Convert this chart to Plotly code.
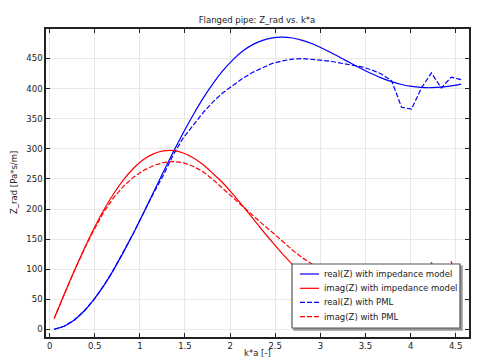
import plotly.graph_objects as go

# k*a grid
ka = [0.05, 0.16, 0.27, 0.38, 0.49, 0.60, 0.71, 0.82, 0.93, 1.04,
      1.15, 1.26, 1.37, 1.48, 1.59, 1.70, 1.81, 1.92, 2.03, 2.14,
      2.25, 2.36, 2.47, 2.58, 2.69, 2.80, 2.91, 3.02, 3.13, 3.24,
      3.35, 3.46, 3.57, 3.68, 3.79, 3.90, 4.01, 4.12, 4.23, 4.34,
      4.45, 4.56]

real_imp = [0.3, 5.4, 15.4, 30.2, 49.5, 72.7, 99.4, 128.9, 160.3, 193.3,
            227.6, 261.4, 294.6, 326.4, 356.3, 383.8, 408.4, 429.8, 447.8, 462.3,
            473.1, 480.2, 484.4, 485.5, 484.0, 480.2, 474.5, 467.1, 458.8, 450.1,
            441.2, 432.6, 424.6, 417.5, 411.5, 406.9, 403.6, 401.9, 401.5, 402.4,
            404.5, 407.5]

imag_imp = [18.2, 58.0, 96.4, 133.0, 167.2, 198.3, 225.4, 248.8, 267.7, 282.1,
            291.6, 296.5, 297.0, 293.1, 285.3, 274.0, 259.0, 243.3, 224.9, 205.3,
            184.8, 164.3, 144.5, 125.6, 108.2, 92.4, 78.7, 67.1, 57.9, 50.8,
            46.1, 43.3, 42.5, 43.3, 45.4, 48.6, 52.5, 56.9, 61.3, 65.6,
            69.3, 72.5]

real_pml = [0.3, 5.4, 15.4, 30.2, 49.5, 72.7, 99.4, 128.9, 160.3, 193.0,
            226.0, 256.0, 290.0, 318.0, 340.0, 360.0, 378.0, 393.0, 405.0, 417.0,
            427.0, 435.0, 442.0, 446.0, 449.0, 450.0, 449.0, 447.0, 445.0, 442.0,
            439.0, 436.0, 431.0, 424.0, 413.0, 369.0, 366.0, 401.0, 426.0, 401.0,
            419.0, 415.0]

imag_pml = [18.0, 58.0, 96.0, 132.0, 165.0, 195.0, 219.0, 238.0, 253.0, 264.0,
            272.0, 277.0, 279.0, 277.0, 271.0, 262.0, 249.0, 234.0, 219.0, 204.0,
            189.0, 175.0, 161.0, 146.0, 132.0, 119.0, 108.0, 98.0, 89.0, 81.0,
            75.0, 70.0, 66.0, 62.0, 58.0, 85.0, 60.0, 45.0, 112.0, 62.0,
            113.0, 68.0]

series_names = ["real(Z) with impedance model", "imag(Z) with impedance model",
                "real(Z) with PML", "imag(Z) with PML"]

BLUE = "#0000ff"
RED = "#ff0000"
FONT = "DejaVu Sans"
DASH = "5px,2px"

styles = [(BLUE, "solid"), (RED, "solid"), (BLUE, DASH), (RED, DASH)]
values = [real_imp, imag_imp, real_pml, imag_pml]

fig = go.Figure()
for name, vals, (col, dash) in zip(series_names, values, styles):
    shape = "spline" if dash == "solid" else "linear"
    fig.add_trace(go.Scatter(x=ka, y=vals, mode="lines", name=name,
                             line=dict(color=col, width=1.2, dash=dash, shape=shape, smoothing=0.6),
                             showlegend=False))

# page has an 8px body margin; work in page pixels and convert
OFF = 8
W, H = 484 - OFF, 364 - OFF
L, R, T, B = 46 - OFF, 469 - OFF, 29 - OFF, 337 - OFF

def px(x):
    return (x - OFF - L) / (R - L)

def py(y):
    return (B - (y - OFF)) / (B - T)

axis_common = dict(showline=True, linecolor="#222222", linewidth=1.5, mirror="ticks",
                   ticks="inside", ticklen=4, tickwidth=1, tickcolor="#222222",
                   showgrid=True, gridcolor="#e8e8e8", gridwidth=1, zeroline=False,
                   tickfont=dict(family=FONT, size=8.5, color="#222222"))

fig.update_xaxes(range=[-0.04, 4.647], tick0=0, dtick=0.5, **axis_common)
fig.update_yaxes(range=[-12.5, 499], tick0=0, dtick=50, **axis_common)

shapes = []
# legend box with shadow
shapes.append(dict(type="rect", xref="paper", yref="paper", layer="above",
                   x0=px(294), x1=px(462), y0=py(330), y1=py(266),
                   line=dict(color="#9a9a9a", width=1.5), fillcolor="#9a9a9a"))
shapes.append(dict(type="rect", xref="paper", yref="paper", layer="above",
                   x0=px(292), x1=px(460), y0=py(328), y1=py(264),
                   line=dict(color="#555555", width=1.2), fillcolor="white"))
row_y = [274, 288.3, 302.3, 316.7]
annotations = []
for (col, dash), name, ry in zip(styles, series_names, row_y):
    shapes.append(dict(type="line", xref="paper", yref="paper", layer="above",
                       x0=px(300), x1=px(319), y0=py(ry), y1=py(ry),
                       line=dict(color=col, width=1.2, dash=dash)))
    annotations.append(dict(text=name, xref="paper", yref="paper", x=px(322), y=py(ry),
                            xanchor="left", yanchor="middle", showarrow=False,
                            font=dict(family=FONT, size=8.5, color="#222222")))

annotations.append(dict(text="k*a [-]", xref="paper", yref="paper", x=px(257.5), y=py(353),
                        xanchor="center", yanchor="middle", showarrow=False,
                        font=dict(family=FONT, size=8.5, color="#222222")))
annotations.append(dict(text="Z_rad [Pa*s/m]", xref="paper", yref="paper", x=px(14), y=py(183),
                        xanchor="center", yanchor="middle", showarrow=False, textangle=-90,
                        font=dict(family=FONT, size=8.5, color="#222222")))

fig.update_layout(
    width=W, height=H,
    margin=dict(l=L, r=W - R, t=T, b=H - B),
    paper_bgcolor="white", plot_bgcolor="white",
    title=dict(text="Flanged pipe: Z_rad vs. k*a", x=px(257), xref="paper",
               y=(H - (20.5 - OFF)) / H, yref="container", xanchor="center", yanchor="middle",
               font=dict(family=FONT, size=8.5, color="#222222")),
    shapes=shapes, annotations=annotations,
)

fig.write_html("out.html")
